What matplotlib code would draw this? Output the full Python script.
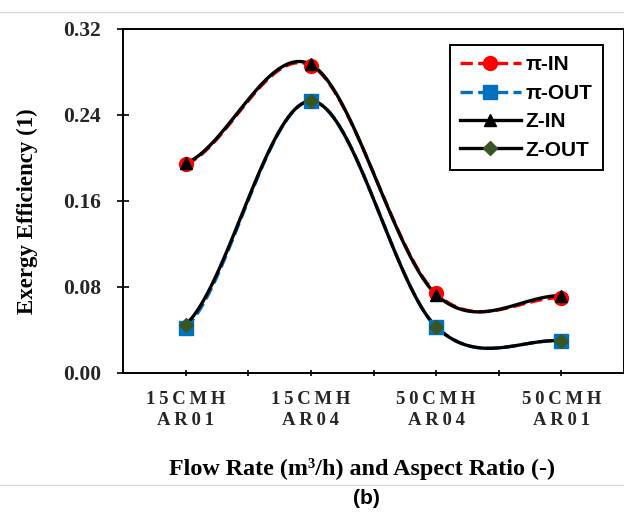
import numpy as np
from matplotlib import pyplot as plt
from matplotlib.lines import Line2D

categories = ["15CMH\nAR01", "15CMH\nAR04", "50CMH\nAR04", "50CMH\nAR01"]
pi_in = [0.194, 0.286, 0.074, 0.070]
pi_out = [0.042, 0.253, 0.043, 0.030]
z_in = [0.195, 0.287, 0.073, 0.072]
z_out = [0.045, 0.253, 0.043, 0.030]
y_ticks = [0.00, 0.08, 0.16, 0.24, 0.32]


def smooth(y, n=40):
    # excel-like smoothed line (catmull-rom)
    y = list(y)
    p = [y[0]] + y + [y[-1]]
    xs, ys = [], []
    for i in range(len(y) - 1):
        p0, p1, p2, p3 = p[i], p[i + 1], p[i + 2], p[i + 3]
        t = np.linspace(0, 1, n)
        yy = 0.5 * ((2 * p1) + (-p0 + p2) * t + (2 * p0 - 5 * p1 + 4 * p2 - p3) * t ** 2
                    + (-p0 + 3 * p1 - 3 * p2 + p3) * t ** 3)
        xs.extend(i + t)
        ys.extend(yy)
    return np.array(xs), np.array(ys)


def spaced(s):
    return "\n".join("\u2009".join(line) for line in s.split("\n"))


fig = plt.figure(figsize=(6.24, 5.13), dpi=100)
ax = fig.add_axes([123 / 624, 140 / 513, 501 / 624, 344 / 513])

x = np.arange(len(categories))
series = [
    (pi_in, "π-IN", "#ff0000", "--", "o", "#ff0000", 10),
    (pi_out, "π-OUT", "#0070c0", "--", "s", "#0070c0", 10),
    (z_in, "Z-IN", "black", "-", "^", "black", 9),
    (z_out, "Z-OUT", "black", "-", "D", "#375623", 7),
]
handles = []
for vals, name, col, ls, mk, mcol, ms in series:
    sx, sy = smooth(vals)
    ax.plot(sx, sy, color=col, ls=ls, lw=2.4, zorder=2)
    ax.plot(x, vals, ls="none", marker=mk, color=mcol, ms=ms, zorder=3)
    handles.append(Line2D([], [], color=col, ls=ls, lw=2.4, marker=mk,
                          mfc=mcol, mec=mcol, ms=ms))

ax.set_xlim(-0.5, 3.5)
ax.set_ylim(0, 0.32)
ax.set_yticks(y_ticks)
ax.set_yticklabels(["%.2f" % v for v in y_ticks])
ax.set_xticks(np.arange(0, 3.01, 0.5))
ax.set_xticklabels([])
for i, c in enumerate(categories):
    ax.text(i, -0.0345, spaced(c), ha="center", va="center", fontsize=13.5,
            fontweight="bold", family=["Liberation Serif", "DejaVu Serif"],
            color="#262626", linespacing=1.25)

for s in ax.spines.values():
    s.set_linewidth(1.4)
ax.tick_params(axis="y", direction="inout", length=8, width=1.2, pad=12)
ax.tick_params(axis="x", direction="inout", length=5, width=1.2)
for lab in ax.get_yticklabels():
    lab.set_fontfamily("Liberation Serif")
    lab.set_fontweight("bold")
    lab.set_fontsize(15.5)
    lab.set_color("#262626")

ax.set_ylabel("Exergy Efficiency (1)", fontfamily="Liberation Serif",
              fontweight="bold", fontsize=16.5)
ax.yaxis.set_label_coords(-0.17, 0.47)
fig.text(362 / 624, 1 - 469 / 513, "Flow Rate (m³/h) and Aspect Ratio (-)",
         ha="center", va="center", fontfamily="Liberation Serif",
         fontweight="bold", fontsize=17.4)
fig.text(366 / 624, 1 - 499 / 513, "(b)", ha="center", va="center",
         fontfamily="Liberation Sans", fontweight="bold", fontsize=15)

leg = ax.legend(handles=handles, labels=[s[1] for s in series],
                loc="upper right", bbox_to_anchor=(603 / 624, 1 - 45 / 513),
                bbox_transform=fig.transFigure, handlelength=2.9,
                prop={"family": "Liberation Sans", "weight": "bold", "size": 15},
                fancybox=False, edgecolor="black", framealpha=1,
                borderpad=0.5, labelspacing=0.45, handletextpad=0.25,
                borderaxespad=0)
leg.get_frame().set_linewidth(1.4)

fig.add_artist(Line2D([0, 1], [1 - 12 / 513] * 2, color="#d9d9d9", lw=1))
fig.add_artist(Line2D([0, 1], [1 - 485 / 513] * 2, color="#d9d9d9", lw=1))

fig.savefig("out.png", dpi=100)
